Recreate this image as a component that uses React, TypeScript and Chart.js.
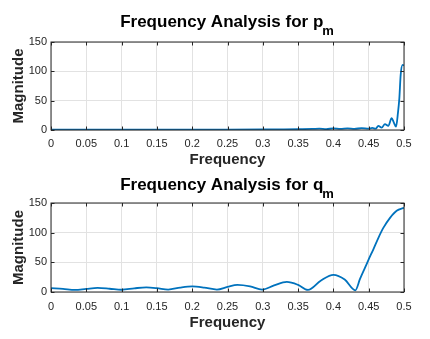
import React, { useEffect, useRef } from "react";
import { Chart, registerables } from "chart.js";

Chart.register(...registerables);

// ---- Data ----
const freqP = [0, 0.05, 0.1, 0.15, 0.2, 0.25, 0.3, 0.33, 0.35, 0.37, 0.38, 0.39, 0.4, 0.41, 0.42, 0.43, 0.44, 0.45, 0.455, 0.46, 0.4636, 0.4684, 0.473, 0.4778, 0.4825, 0.4855, 0.4887, 0.4915, 0.4934, 0.4953, 0.498, 0.5];
const magP = [0.4, 0.4, 0.5, 0.5, 0.6, 0.7, 0.9, 1.1, 1.4, 1.8, 2.4, 1.6, 2.6, 1.8, 2.9, 1.9, 3.2, 2.2, 3.6, 2.2, 7, 4, 10, 7, 20, 13, 5.6, 30, 54, 94, 111, 110];

const freqQ = [0, 0.017, 0.034, 0.05, 0.066, 0.083, 0.1, 0.118, 0.135, 0.15, 0.166, 0.183, 0.2, 0.217, 0.235, 0.25, 0.264, 0.282, 0.299, 0.316, 0.334, 0.35, 0.364, 0.382, 0.4, 0.416, 0.431, 0.4377, 0.4448, 0.45, 0.4566, 0.4636, 0.4707, 0.4802, 0.4896, 0.5];
const magQ = [6.5, 5.2, 3.5, 5.3, 6.8, 5.5, 3.8, 6.2, 7.8, 6.5, 4.0, 7.5, 9.5, 7.5, 4.0, 8.5, 12, 9.5, 4.0, 11, 17, 12, 3.5, 19, 29, 21, 2.8, 22, 41, 55, 72, 91, 108, 125, 137, 142];

const xTicksMin = 0;
const xTicksMax = 0.5;
const xStep = 0.05;
const yMin = 0;
const yMax = 150;
const yStep = 50;

const titleMain = ["Frequency Analysis for p", "Frequency Analysis for q"];
const titleSub = ["m", "m"];
const xLabel = "Frequency";
const yLabel = "Magnitude";

const FONT = "'Liberation Sans', Arial, Helvetica, sans-serif";
const AX = "#262626";
const LINE = "#0072BD";

type Cfg = {
  main: string;
  sub: string;
  titleBase: number;
  xLabelBase: number;
};

function makePlugin(cfg: Cfg) {
  return {
    id: "matlabDecor",
    afterDraw(chart: any) {
      const ctx = chart.ctx as CanvasRenderingContext2D;
      const { left, right, top, bottom } = chart.chartArea;
      const xs = chart.scales.x;
      const ys = chart.scales.y;
      ctx.save();
      // frame
      ctx.strokeStyle = AX;
      ctx.lineWidth = 1;
      ctx.strokeRect(left, top, right - left, bottom - top);
      // inward ticks
      ctx.beginPath();
      const tl = 3.5;
      xs.ticks.forEach((t: any) => {
        const px = Math.round(xs.getPixelForValue(t.value)) + 0.5;
        ctx.moveTo(px, bottom);
        ctx.lineTo(px, bottom - tl);
        ctx.moveTo(px, top);
        ctx.lineTo(px, top + tl);
      });
      ys.ticks.forEach((t: any) => {
        const py = Math.round(ys.getPixelForValue(t.value)) + 0.5;
        ctx.moveTo(left, py);
        ctx.lineTo(left + tl, py);
        ctx.moveTo(right, py);
        ctx.lineTo(right - tl, py);
      });
      ctx.stroke();

      // title
      const cx = (left + right) / 2;
      ctx.fillStyle = "#000";
      ctx.textBaseline = "alphabetic";
      ctx.font = `bold 17px ${FONT}`;
      const w1 = ctx.measureText(cfg.main).width;
      ctx.font = `bold 13px ${FONT}`;
      const w2 = ctx.measureText(cfg.sub).width;
      const start = cx - (w1 + w2) / 2;
      ctx.textAlign = "left";
      ctx.font = `bold 17px ${FONT}`;
      ctx.fillText(cfg.main, start, cfg.titleBase);
      ctx.font = `bold 13px ${FONT}`;
      ctx.fillText(cfg.sub, start + w1 - 1, cfg.titleBase + 8);

      // axis labels
      ctx.fillStyle = AX;
      ctx.font = `bold 15px ${FONT}`;
      ctx.textAlign = "center";
      ctx.fillText(xLabel, cx, cfg.xLabelBase);
      ctx.save();
      ctx.translate(22.5, (top + bottom) / 2);
      ctx.rotate(-Math.PI / 2);
      ctx.fillText(yLabel, 0, 0);
      ctx.restore();
      ctx.restore();
    },
  };
}

function fmt(v: number) {
  return String(Number(v.toFixed(2)));
}

function FreqChart(props: {
  freq: number[];
  mag: number[];
  height: number;
  padTop: number;
  xAxisH: number;
  xTickPad: number;
  cfg: Cfg;
}) {
  const ref = useRef<HTMLCanvasElement | null>(null);
  useEffect(() => {
    if (!ref.current) return;
    const pts = props.freq.map((f, i) => ({ x: f, y: props.mag[i] }));
    const chart = new Chart(ref.current, {
      type: "line",
      data: {
        datasets: [
          {
            data: pts,
            borderColor: LINE,
            borderWidth: 1.8,
            pointRadius: 0,
            fill: false,
            cubicInterpolationMode: "monotone",
          },
        ],
      },
      options: {
        responsive: false,
        animation: false,
        events: [],
        layout: { padding: { left: 0, top: props.padTop, right: 26, bottom: 0 } },
        plugins: { legend: { display: false }, title: { display: false }, tooltip: { enabled: false } },
        scales: {
          x: {
            type: "linear",
            min: xTicksMin,
            max: xTicksMax,
            border: { display: false },
            grid: { color: "#e2e2e2", drawTicks: false, lineWidth: 1 },
            ticks: {
              stepSize: xStep,
              autoSkip: false,
              maxRotation: 0,
              padding: props.xTickPad,
              color: AX,
              font: { family: FONT, size: 11 },
              callback: (v: any) => fmt(Number(v)),
            },
            afterFit: (s: any) => {
              s.height = props.xAxisH;
            },
          },
          y: {
            type: "linear",
            min: yMin,
            max: yMax,
            border: { display: false },
            grid: { color: "#e2e2e2", drawTicks: false, lineWidth: 1 },
            ticks: {
              stepSize: yStep,
              padding: 4,
              color: AX,
              font: { family: FONT, size: 11 },
              callback: (v: any) => String(v),
            },
            afterFit: (s: any) => {
              s.width = 51;
            },
          },
        },
      },
      plugins: [makePlugin(props.cfg)],
    } as any);
    return () => chart.destroy();
  }, []);
  return <canvas ref={ref} width={430} height={props.height} style={{ display: "block" }} />;
}

export default function App() {
  return (
    <div style={{ position: "fixed", left: 0, top: 0, width: 430, height: 339, background: "#fff" }}>
      <FreqChart
        freq={freqP}
        mag={magP}
        height={170}
        padTop={42}
        xAxisH={40}
        xTickPad={7}
        cfg={{ main: titleMain[0], sub: titleSub[0], titleBase: 27, xLabelBase: 164 }}
      />
      <FreqChart
        freq={freqQ}
        mag={magQ}
        height={169}
        padTop={33}
        xAxisH={47}
        xTickPad={8}
        cfg={{ main: titleMain[1], sub: titleSub[1], titleBase: 20, xLabelBase: 157 }}
      />
    </div>
  );
}
